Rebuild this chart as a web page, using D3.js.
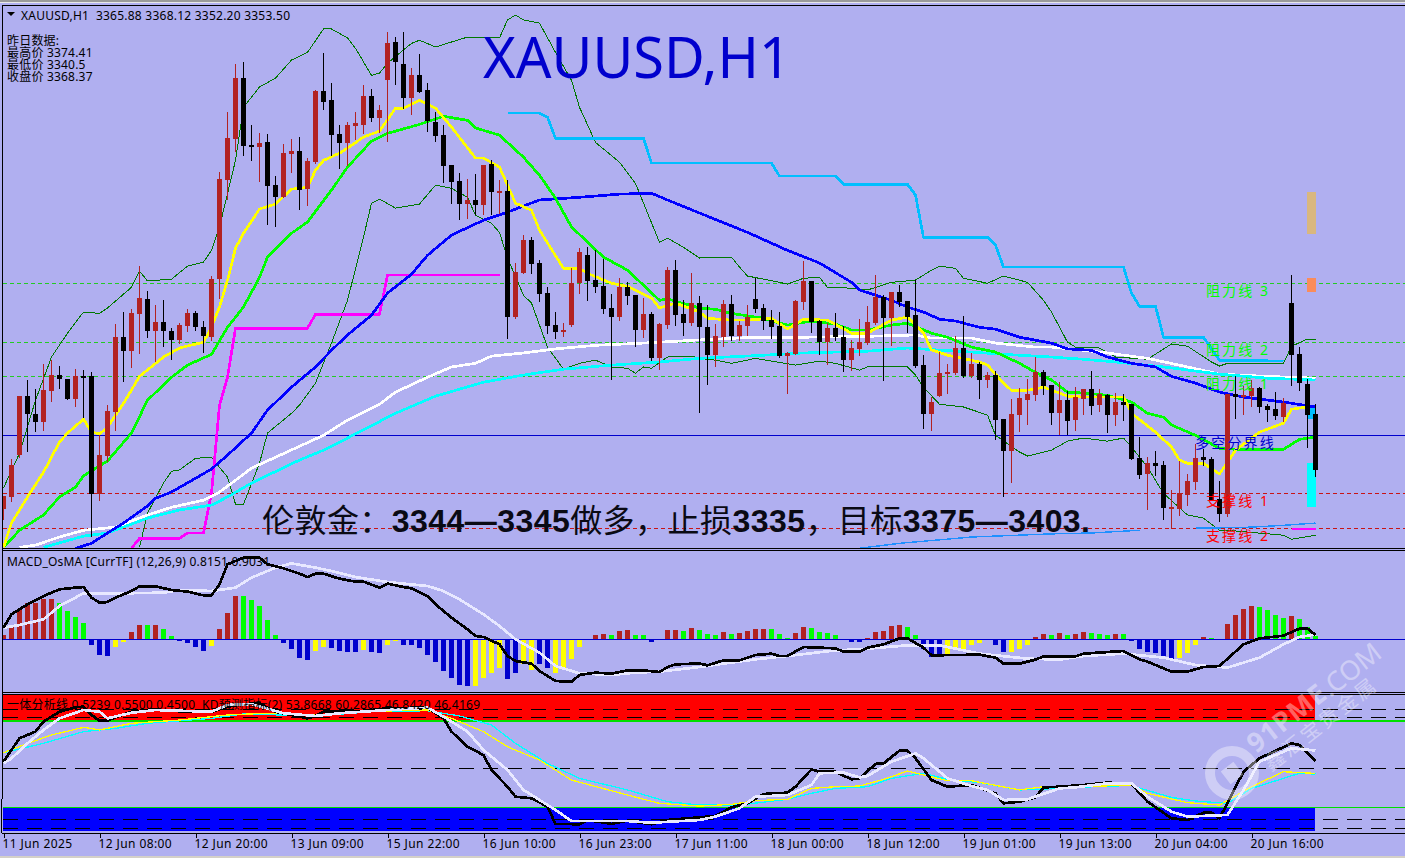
<!DOCTYPE html>
<html><head><meta charset="utf-8">
<script src="https://cdn.jsdelivr.net/npm/d3@7/dist/d3.min.js"></script>
<style>
html,body{margin:0;padding:0;background:#b0aff0;overflow:hidden}
svg{display:block}
text{font-family:"Noto Sans","Noto Sans CJK SC",sans-serif}
</style></head><body><svg id="c" width="1405" height="858"></svg>
<script>
// ---------- candles (XAUUSD H1) ----------
const opens=[3344.8,3347.5,3356.8,3369.9,3365.9,3364.1,3371.0,3374.6,3373.7,3369.2,
3374.3,3374.3,3348.1,3356.6,3366.4,3383.0,3379.9,3388.1,3391.5,3384.3,
3386.3,3384.3,3382.4,3385.5,3388.3,3385.2,3383.0,3395.9,3417.9,3427.0,
3440.6,3425.7,3425.2,3426.3,3416.8,3414.1,3423.7,3424.3,3415.9,3421.9,
3437.7,3435.7,3428.1,3426.1,3429.9,3430.1,3436.6,3431.7,3440.1,3448.6,
3443.7,3436.1,3441.2,3437.9,3430.8,3427.9,3421.2,3417.7,3412.6,3413.5,
3412.3,3421.5,3415.2,3415.5,3387.5,3397.2,3404.6,3399.5,3392.8,3385.7,
3384.1,3385.7,3395.0,3401.2,3395.7,3394.3,3389.5,3387.5,3394.1,3392.3,
3384.6,3388.1,3378.3,3385.7,3397.9,3388.1,3386.1,3390.6,3385.2,3379.0,
3383.0,3390.4,3383.2,3385.5,3391.5,3389.5,3386.8,3385.5,3378.8,3379.2,
3390.8,3395.5,3386.6,3381.9,3385.0,3383.0,3377.9,3380.4,3381.7,3386.1,
3391.9,3387.2,3393.0,3391.0,3387.9,3376.8,3365.9,3369.9,3374.8,3375.0,
3380.6,3374.3,3377.0,3373.5,3374.6,3364.8,3357.7,3365.7,3369.0,3370.1,
3375.2,3372.4,3366.1,3369.0,3364.6,3369.2,3371.5,3367.9,3370.1,3365.7,
3368.6,3368.1,3356.1,3352.6,3355.0,3354.6,3344.8,3344.8,3347.9,3350.8,
3356.4,3355.9,3347.0,3343.7,3370.4,3369.7,3369.9,3371.7,3367.7,3367.0,
3365.2,3390.6,3379.2,3372.6,3365.88];
const highs=[3347.7,3355.9,3369.9,3373.5,3371.5,3377.0,3377.9,3376.6,3373.7,3375.9,
3375.7,3375.2,3361.2,3367.9,3385.9,3388.6,3389.2,3398.8,3393.2,3390.1,
3391.2,3385.0,3386.1,3389.2,3388.8,3386.6,3396.6,3419.7,3433.0,3443.7,
3444.1,3430.1,3428.3,3428.1,3418.8,3425.9,3427.0,3427.5,3422.8,3437.9,
3446.1,3439.5,3430.1,3430.8,3433.0,3439.0,3438.1,3434.6,3450.8,3449.7,
3450.8,3442.8,3445.9,3439.5,3433.0,3430.1,3421.2,3419.5,3418.1,3419.2,
3421.2,3422.3,3417.9,3417.9,3399.5,3405.7,3405.2,3400.1,3394.1,3388.6,
3386.1,3398.3,3402.8,3403.0,3402.3,3400.3,3392.6,3396.1,3395.2,3392.3,
3391.7,3388.6,3386.1,3398.6,3400.1,3391.2,3397.2,3392.1,3390.1,3385.9,
3391.2,3392.3,3386.6,3390.1,3396.1,3390.4,3389.0,3388.6,3379.7,3391.2,
3399.9,3395.5,3386.8,3386.1,3388.3,3385.5,3382.4,3387.0,3389.9,3396.8,
3392.3,3393.0,3394.6,3391.0,3395.7,3379.0,3369.7,3379.7,3377.0,3383.2,
3387.7,3379.5,3377.5,3375.2,3375.5,3364.8,3369.2,3371.7,3373.7,3378.6,
3375.7,3372.4,3373.0,3371.0,3371.9,3371.5,3375.5,3371.5,3370.4,3370.6,
3370.4,3368.1,3360.8,3356.4,3357.7,3355.5,3349.0,3355.5,3352.6,3359.3,
3358.1,3356.4,3351.0,3370.4,3374.3,3372.1,3373.5,3371.9,3368.1,3370.8,
3369.5,3396.8,3380.8,3373.7,3368.12];
const lows=[3342.6,3346.6,3356.4,3357.7,3362.1,3362.4,3368.8,3371.7,3369.2,3367.7,
3365.2,3338.8,3346.8,3355.5,3362.4,3373.2,3376.4,3379.5,3383.0,3377.7,
3381.0,3378.1,3381.7,3384.3,3384.6,3379.7,3382.4,3391.7,3413.7,3424.3,
3423.5,3422.3,3417.7,3408.1,3407.7,3414.1,3419.7,3411.5,3412.3,3421.7,
3433.7,3423.5,3420.6,3421.2,3427.0,3428.3,3431.0,3428.6,3426.6,3439.2,
3433.9,3432.6,3437.5,3428.8,3426.6,3417.5,3412.8,3409.2,3409.5,3410.3,
3410.3,3410.3,3410.6,3382.8,3387.2,3397.2,3397.2,3391.0,3383.9,3382.8,
3383.2,3385.5,3392.8,3391.2,3393.0,3388.3,3373.7,3386.8,3390.4,3381.0,
3383.0,3377.9,3375.9,3385.0,3385.7,3383.5,3385.7,3366.4,3372.6,3376.6,
3381.0,3382.4,3382.4,3383.5,3388.6,3384.8,3382.8,3378.6,3370.6,3379.2,
3389.2,3384.1,3379.2,3377.0,3382.4,3375.5,3375.7,3379.0,3381.5,3385.9,
3373.5,3381.2,3389.9,3384.1,3376.4,3362.8,3362.4,3369.9,3370.6,3374.8,
3374.1,3374.1,3369.5,3371.9,3360.4,3347.7,3350.8,3362.1,3363.7,3369.0,
3370.4,3363.7,3361.5,3361.5,3362.4,3365.9,3365.9,3366.6,3361.9,3363.5,
3364.6,3355.9,3351.7,3344.8,3352.4,3342.6,3340.6,3343.5,3345.7,3349.2,
3354.6,3346.8,3342.1,3343.2,3365.0,3365.9,3367.7,3366.4,3364.3,3364.8,
3364.3,3372.4,3371.2,3358.6,3352.20];
const closes=[3347.7,3354.6,3369.9,3365.9,3364.1,3371.2,3374.6,3373.7,3369.2,3374.3,
3374.1,3348.1,3356.8,3366.6,3383.0,3379.9,3388.3,3391.7,3384.3,3386.3,
3384.3,3382.4,3385.7,3388.3,3385.2,3383.2,3395.9,3418.1,3427.2,3440.6,
3425.5,3425.2,3426.1,3416.6,3414.1,3423.9,3424.3,3415.7,3422.1,3437.7,
3435.2,3427.9,3426.1,3430.1,3430.6,3436.6,3431.7,3433.5,3448.3,3444.1,
3436.1,3441.2,3437.5,3431.0,3427.7,3421.0,3417.5,3412.6,3413.5,3412.3,
3421.2,3415.2,3415.5,3387.5,3397.5,3404.6,3399.2,3392.6,3385.5,3384.1,
3384.6,3395.0,3401.9,3395.5,3394.1,3389.2,3387.5,3394.1,3392.1,3384.6,
3388.1,3378.3,3385.9,3397.9,3387.9,3386.1,3390.6,3385.2,3379.0,3383.2,
3390.4,3383.2,3385.7,3387.5,3389.2,3386.6,3385.2,3378.8,3379.5,3391.0,
3395.5,3386.3,3381.9,3385.0,3383.0,3377.9,3380.6,3381.9,3386.3,3391.9,
3387.2,3393.0,3390.8,3387.5,3376.6,3365.9,3368.6,3375.0,3375.2,3380.6,
3374.3,3377.0,3373.5,3374.6,3364.6,3357.7,3365.9,3369.5,3370.4,3375.2,
3372.2,3366.1,3369.0,3364.3,3369.7,3371.5,3367.7,3370.4,3365.7,3368.6,
3367.9,3355.9,3352.4,3355.0,3354.4,3345.0,3345.2,3348.3,3351.0,3356.1,
3355.7,3346.8,3343.7,3370.4,3369.7,3370.1,3371.7,3367.5,3366.8,3365.5,
3368.3,3379.0,3372.8,3365.7,3353.50];

// ---------- main-pane overlays: [bar index, price] ----------
const maYellow=[[0,3336.3],[1,3341.7],[3,3347.5],[5,3353.0],[7,3359.7],[8,3361.7],[10,3364.8],[11,3361.9],[12,3361.5],[13,3363.0],[15,3368.3],[17,3374.3],[20,3378.6],[22,3380.6],[25,3381.9],[26,3385.2],[27,3389.7],[28,3395.7],[29,3402.8],[30,3406.1],[32,3411.5],[34,3412.6],[36,3415.9],[38,3416.3],[39,3420.1],[40,3422.3],[42,3423.9],[43,3425.0],[45,3427.5],[47,3428.8],[49,3433.9],[50,3433.9],[52,3435.7],[54,3433.9],[56,3429.7],[59,3422.8],[60,3422.8],[62,3420.8],[64,3412.8],[66,3411.2],[67,3406.8],[70,3398.3],[72,3398.3],[73,3397.2],[76,3395.0],[78,3394.3],[81,3391.7],[82,3389.5],[84,3390.6],[87,3388.6],[88,3387.2],[91,3386.8],[93,3386.8],[96,3387.2],[98,3384.8],[100,3387.0],[103,3386.8],[106,3383.9],[108,3383.9],[111,3386.8],[113,3387.5],[115,3383.9],[116,3380.2],[118,3379.0],[122,3377.5],[123,3376.8],[125,3372.8],[126,3371.2],[128,3371.2],[130,3371.9],[133,3369.9],[135,3369.7],[140,3369.7],[141,3366.1],[144,3361.9],[146,3358.6],[147,3355.7],[148,3355.0],[150,3355.0],[152,3352.6],[154,3357.9],[157,3361.9],[160,3363.9],[161,3367.0],[163,3367.5],[164,3364.6]];
const maGreen=[[0,3336.3],[2,3340.1],[5,3343.5],[7,3347.5],[9,3349.7],[10,3352.2],[13,3355.5],[16,3361.7],[18,3369.0],[21,3374.1],[23,3376.8],[26,3379.2],[28,3385.2],[30,3389.7],[32,3396.3],[33,3400.8],[36,3406.1],[38,3408.6],[41,3415.7],[43,3420.8],[46,3426.6],[48,3428.3],[49,3428.8],[52,3430.3],[55,3432.1],[58,3431.2],[59,3429.5],[62,3427.9],[65,3423.0],[67,3419.0],[69,3413.9],[71,3407.5],[75,3400.8],[78,3397.9],[82,3391.2],[83,3391.5],[87,3389.5],[89,3389.2],[91,3388.3],[95,3387.2],[96,3386.6],[98,3385.7],[101,3386.6],[104,3385.9],[106,3384.6],[108,3384.6],[111,3385.7],[113,3386.1],[116,3383.9],[118,3383.0],[121,3380.8],[124,3379.7],[127,3377.2],[129,3375.2],[131,3373.5],[133,3370.8],[135,3370.6],[138,3370.1],[141,3368.6],[143,3366.1],[145,3365.2],[146,3363.5],[149,3361.2],[152,3358.3],[154,3358.1],[160,3358.1],[162,3360.3],[164,3360.8]];
const maBlue=[[9,3336.1],[11,3337.2],[13,3339.5],[15,3341.7],[18,3345.5],[19,3347.2],[21,3348.6],[26,3353.7],[28,3356.8],[31,3361.7],[33,3366.8],[36,3371.9],[39,3376.4],[41,3380.1],[43,3383.5],[46,3387.9],[48,3392.8],[51,3397.0],[53,3401.2],[56,3405.7],[60,3409.0],[63,3410.8],[67,3413.5],[72,3414.1],[77,3414.8],[81,3415.0],[83,3413.5],[87,3410.6],[93,3406.3],[98,3402.3],[102,3399.5],[106,3395.2],[107,3393.5],[111,3391.2],[113,3389.7],[115,3388.6],[117,3387.0],[119,3386.6],[122,3385.2],[124,3384.8],[127,3383.0],[131,3381.7],[133,3380.4],[136,3380.1],[138,3378.6],[141,3377.2],[144,3376.4],[146,3374.3],[149,3372.8],[152,3370.8],[155,3369.7],[160,3368.6],[164,3367.5]];
const maWhite=[[2,3336.3],[4,3336.8],[7,3338.6],[10,3340.1],[14,3340.8],[18,3343.5],[21,3345.2],[25,3346.8],[27,3348.6],[29,3351.2],[31,3353.9],[40,3361.2],[43,3364.6],[47,3368.1],[49,3370.8],[53,3374.1],[56,3376.4],[59,3377.2],[61,3378.8],[65,3379.5],[69,3380.4],[74,3381.2],[80,3381.7],[87,3382.4],[94,3383.0],[100,3383.0],[108,3383.2],[114,3383.5],[116,3382.8],[121,3382.8],[124,3381.7],[129,3380.8],[131,3380.8],[135,3380.1],[138,3379.5],[143,3378.3],[148,3376.4],[152,3374.8],[158,3374.3],[164,3373.9]];
const maCyan=[[5,3336.3],[10,3338.8],[13,3339.5],[18,3342.8],[22,3344.6],[26,3345.7],[28,3347.5],[31,3350.6],[37,3355.7],[40,3357.9],[43,3360.6],[49,3366.1],[54,3369.9],[60,3373.0],[65,3374.6],[70,3375.9],[76,3376.8],[82,3377.5],[87,3378.3],[95,3379.0],[100,3379.5],[108,3379.9],[113,3380.6],[121,3379.7],[125,3379.2],[131,3378.6],[135,3378.1],[139,3377.5],[145,3376.4],[152,3374.8],[158,3373.9],[164,3373.5]];
const bandUpper=[[0,3349.5],[2,3357.2],[4,3369.0],[6,3378.6],[8,3383.9],[10,3388.6],[12,3388.3],[13,3389.5],[16,3394.1],[17,3397.7],[18,3395.5],[21,3395.9],[23,3398.8],[25,3399.7],[26,3402.3],[27,3407.5],[29,3422.3],[30,3434.1],[32,3438.6],[34,3440.6],[36,3444.6],[38,3446.3],[40,3451.5],[41,3451.5],[43,3449.5],[44,3447.2],[46,3441.2],[47,3441.7],[48,3443.9],[51,3448.3],[52,3449.0],[54,3447.5],[58,3449.7],[62,3449.5],[63,3453.5],[64,3454.6],[65,3453.5],[67,3452.8],[69,3446.3],[71,3440.1],[72,3434.1],[74,3426.3],[77,3421.9],[79,3417.2],[80,3412.8],[82,3404.1],[83,3405.0],[85,3403.0],[87,3400.6],[91,3400.8],[92,3398.6],[93,3396.6],[97,3395.2],[98,3394.8],[100,3396.1],[102,3396.3],[103,3394.1],[106,3393.9],[108,3393.5],[111,3395.2],[114,3395.7],[116,3397.9],[117,3398.8],[119,3398.3],[120,3396.1],[123,3395.0],[125,3396.6],[128,3395.2],[130,3391.2],[131,3388.6],[133,3381.9],[134,3380.8],[137,3380.6],[139,3378.6],[143,3378.1],[146,3381.5],[148,3381.0],[151,3377.5],[152,3376.6],[153,3377.2],[160,3377.2],[161,3381.0],[163,3382.6],[164,3382.6]];
const bandLower=[[17,3336.3],[18,3343.9],[20,3350.6],[21,3353.2],[22,3353.5],[24,3356.1],[26,3356.3],[28,3351.9],[29,3345.9],[30,3345.9],[32,3355.0],[33,3361.7],[36,3366.1],[37,3367.9],[39,3372.8],[41,3381.7],[43,3391.2],[45,3405.2],[46,3412.8],[47,3413.7],[49,3411.7],[52,3412.6],[54,3416.8],[56,3416.1],[58,3414.1],[59,3410.1],[61,3408.3],[62,3406.3],[63,3400.6],[65,3392.3],[66,3390.6],[68,3380.8],[70,3375.9],[72,3377.2],[74,3377.9],[76,3376.4],[78,3376.1],[79,3375.0],[80,3376.4],[81,3376.1],[83,3378.6],[86,3378.8],[87,3378.3],[89,3377.9],[91,3377.2],[94,3378.3],[99,3376.8],[102,3377.7],[104,3377.2],[107,3375.7],[108,3376.4],[113,3376.4],[114,3374.6],[115,3371.9],[117,3368.1],[120,3367.5],[123,3365.7],[124,3361.2],[127,3357.5],[128,3356.6],[131,3357.9],[133,3359.9],[135,3360.6],[138,3359.9],[140,3360.6],[141,3358.6],[143,3354.1],[145,3348.3],[148,3343.5],[150,3342.8],[152,3340.1],[153,3340.1],[160,3339.0],[161,3338.1],[164,3339.0]];
const stopMagenta=[[16,3336.1],[17,3338.3],[22,3338.3],[23,3339.5],[25,3339.5],[26,3348.3],[27,3367.9],[28,3374.1],[29,3385.0],[38,3385.0],[39,3388.1],[47,3388.1],[48,3396.8],[62,3396.8]];
const stopSky=[[63,3432.8],[67,3432.8],[68,3431.9],[69,3427.2],[80,3427.2],[81,3421.7],[96,3421.7],[97,3418.8],[104,3418.8],[105,3417.0],[113,3417.0],[114,3414.6],[115,3405.2],[123,3405.2],[124,3403.5],[125,3398.6],[140,3398.6],[141,3392.8],[142,3389.9],[144,3389.9],[145,3383.0],[150,3383.0],[152,3377.9],[160,3377.7]];
const trailDodgerA=[[107,3336.1],[112,3337.2],[121,3338.6],[131,3339.3],[136,3339.5],[142,3340.1]];
const trailDodgerB=[[149,3340.6],[151,3340.6],[156,3340.8],[160,3341.2],[164,3341.7]];
const shortMagenta=[[161,3340.4],[164,3340.4]];
// signal blocks in the last bar: [top price, bottom price]
const blockTan=[3415.2,3405.9], blockOrange=[3396.1,3393.0], blockCyan=[3355.0,3345.2], blockSky=[3367.2,3364.8];
const blockBar=164;

// ---------- horizontal levels ----------
const resistance=[3395.0,3381.9,3374.41];
const support=[3348.3,3340.5];
const pivot=3361.2;
const levelLabels=[["阻力线 3",3395.0,"#00ff00"],["阻力线 2",3381.9,"#00ff00"],["阻力线 1",3374.41,"#00ff00"],["多空分界线",3361.2,"#0000cd"],["支撑线 1",3348.3,"#ff0000"],["支撑线 2",3340.5,"#ff0000"]];

// ---------- MACD pane ----------
const histValues=[.8,2.8,5.87,7.27,7.27,8.07,8.07,7.27,5.67,4.47,
3.27,-1.13,-3.13,-3.33,-1.53,-.53,1.47,2.87,2.87,2.87,
2.07,.67,-.33,-.73,-1.53,-2.33,-1.33,2.07,5.27,8.67,
8.67,7.87,6.67,3.87,.87,-.73,-1.93,-3.73,-4.13,-2.33,
-1.53,-1.73,-2.33,-2.53,-2.53,-2.13,-2.53,-2.73,-1.13,-.33,
-1.13,-1.13,-1.73,-3.13,-4.53,-6.33,-7.73,-9.13,-9.33,-9.33,
-7.73,-6.73,-5.73,-7.93,-6.73,-4.93,-6.13,-4.93,-5.73,-6.73,
-5.73,-3.93,-1.53,-.27,.87,1.07,.87,1.67,1.87,.87,
.87,-.53,0,1.87,1.87,1.67,2.27,1.87,1.07,.87,
1.47,1.07,1.27,1.67,2.07,2.07,2.07,1.07,.27,1.27,
2.47,2.27,1.47,1.27,.87,0,-.53,-.53,.27,1.47,
1.67,2.67,2.87,2.47,.87,-1.93,-3.53,-3.13,-3.13,-1.73,
-1.93,-1.13,-.73,0,-1.13,-2.53,-2.53,-1.93,-1.13,.47,
1.07,.87,1.27,.87,1.07,1.47,1.27,1.07,.87,1.07,
1.07,-.47,-1.93,-2.53,-2.73,-3.33,-3.93,-3.73,-2.73,-1.13,
.47,.27,0,3.07,4.87,6.07,6.67,6.47,5.87,4.87,
4.27,4.67,4.07,2.47,.67];
const histKinds=("rrrrrrrggg"+"gbbbyyrrgr"+"ggbbbbyrrr"+"gggggbbbby"+"ybbbbybbyy"+"bbbbbbbbby"+"yyybbyybby"+"yyyyrrgrrg"+"gbgrrgrggg"+"rgrrrrgggr"+"rggggrbbrr"+"rrrggbbbyy"+"yyyybbyyyr"+"rgrgrrgggr"+"gbbbbbbyyy"+"rggrrrrggg"+"grggg").split("");
const macdMain=[[0,2.27],[1,4.93],[3,6.93],[5,8.6],[7,9.93],[9,10.27],[10,10.4],[11,8.27],[12,7.27],[13,7.4],[14,8.27],[16,9.6],[17,10.53],[19,10.53],[21,9.8],[23,9.47],[25,8.73],[26,8.73],[27,10.93],[28,14.93],[30,16.27],[32,16.27],[33,14.93],[35,14.13],[37,13.07],[38,12.4],[39,13.07],[40,13.07],[42,12.07],[44,11.47],[45,11.47],[47,10.27],[48,11.07],[50,10.4],[51,10.13],[53,8.6],[54,6.93],[56,4.27],[58,1.93],[59,.6],[60,.4],[62,-1.07],[63,-3.4],[64,-4.4],[66,-4.93],[67,-6.4],[69,-8.4],[71,-8.53],[72,-7.2],[74,-6.73],[76,-6.93],[78,-6.27],[80,-6.27],[82,-6.6],[83,-5.6],[84,-5.07],[87,-4.9],[88,-5.27],[90,-4.27],[92,-4.27],[94,-3.2],[96,-2.93],[97,-3.4],[98,-3.4],[100,-1.6],[104,-1.87],[105,-2.53],[107,-2.53],[108,-1.73],[110,-1.07],[112,.13],[113,.13],[115,-1.73],[116,-3.27],[122,-3.13],[124,-3.73],[125,-4.93],[127,-4.93],[129,-4.13],[130,-3.47],[134,-3.47],[135,-2.93],[140,-2.4],[142,-4.07],[143,-4.53],[146,-6.53],[148,-6.53],[150,-5.6],[152,-5.4],[155,-1.07],[157,.13],[160,.67],[162,2.07],[163,2.07],[164,.8151]];
const macdSignal=[[0,2.27],[2,2.8],[5,3.93],[7,6.6],[10,9.13],[15,9.13],[20,9.27],[22,9.8],[26,9.6],[29,10.27],[31,12.27],[34,14.27],[36,15.13],[39,14.27],[41,13.6],[44,12.4],[48,11.4],[53,10.6],[55,9.6],[57,7.93],[60,4.93],[62,2.6],[64,-.07],[67,-2.73],[69,-5.4],[72,-6.87],[76,-7.2],[79,-6.73],[82,-6.53],[87,-5.6],[90,-4.93],[94,-4.07],[98,-3.4],[104,-2.27],[107,-2.07],[113,-1.27],[117,-1.27],[122,-2.93],[128,-3.93],[132,-4.13],[135,-3.4],[140,-2.93],[145,-3.73],[149,-5.2],[153,-5.73],[157,-3.73],[160,-1.07],[162,.4],[164,.9031]];

// ---------- KD pane ----------
const kdLevels=[85,80,50,20,15];
const kdZoneHigh=[92.9,78.2], kdZoneLow=[26.8,13.2];
const kdGreenLevels=[78.2,26.8];
const kdFast=[[0,53.7],[1,60.6],[2,67.5],[4,71.4],[5,77.3],[7,83.1],[9,85.7],[10,86.1],[11,81.2],[12,77.8],[13,77.8],[14,79.8],[16,83.1],[19,84.5],[21,83.5],[26,83.1],[28,86.1],[30,87.6],[32,88.0],[34,83.1],[36,81.2],[38,79.2],[39,80.6],[40,83.1],[44,83.1],[48,85.1],[53,85.5],[55,79.2],[56,71.4],[58,62.5],[60,57.6],[61,48.8],[63,39.0],[64,33.1],[66,32.2],[68,27.3],[69,17.1],[72,16.9],[73,19.4],[76,17.1],[78,19.0],[81,16.9],[83,19.4],[87,21.0],[89,21.8],[91,26.9],[93,29.2],[95,34.7],[98,35.5],[99,39.0],[101,49.2],[102,47.8],[104,47.8],[106,43.3],[107,43.9],[109,52.4],[110,52.7],[112,60.2],[113,60.2],[114,55.7],[116,42.9],[118,39.0],[121,40.0],[124,35.1],[125,29.2],[127,30.2],[129,32.7],[130,38.6],[132,39.0],[135,40.0],[138,41.4],[141,40.6],[143,30.2],[146,20.4],[148,19.4],[150,23.7],[151,23.7],[152,20.4],[155,47.8],[157,55.7],[161,64.5],[162,63.5],[164,53.8668]];
const kdSlow=[[0,52.7],[1,55.7],[3,64.5],[5,72.4],[7,79.2],[10,84.1],[12,83.1],[13,79.2],[16,82.5],[19,84.1],[26,83.1],[28,87.1],[31,87.6],[35,82.2],[39,80.6],[42,82.2],[48,84.1],[53,85.5],[55,80.2],[58,71.4],[60,60.6],[63,48.8],[65,37.1],[67,31.2],[69,25.3],[71,18.8],[78,18.8],[81,17.8],[87,19.4],[89,21.4],[92,26.3],[94,33.1],[98,34.1],[101,40.0],[102,46.9],[105,47.3],[107,44.5],[108,45.3],[111,53.7],[114,58.6],[115,55.7],[118,43.9],[121,39.4],[123,37.1],[125,31.2],[128,31.6],[132,38.0],[134,38.6],[138,41.0],[141,41.0],[143,33.1],[146,24.3],[148,21.4],[153,22.4],[155,37.1],[157,53.7],[161,61.6],[164,60.2865]];
const kdYellow=[[0,59.0],[3,64.5],[6,69.4],[10,73.9],[12,72.4],[16,76.3],[22,78.2],[28,81.2],[33,82.2],[39,81.2],[44,83.1],[53,84.1],[56,79.2],[60,71.4],[63,62.5],[67,54.7],[71,42.9],[78,34.1],[82,29.2],[87,27.6],[91,28.6],[94,30.8],[98,31.6],[101,38.0],[104,39.0],[107,39.4],[110,43.3],[113,48.2],[115,45.9],[118,42.5],[121,42.5],[127,37.1],[130,39.0],[135,39.0],[141,40.0],[143,35.1],[148,29.6],[152,28.2],[156,39.0],[160,47.8],[164,46.842]];
const kdCyan=[[0,59.0],[5,64.5],[10,71.4],[14,73.3],[18,76.3],[26,79.2],[30,81.8],[39,80.6],[46,83.1],[53,83.7],[57,80.6],[61,75.3],[64,64.5],[68,52.7],[72,43.9],[78,37.1],[83,30.2],[87,28.2],[92,28.2],[98,31.6],[101,35.1],[104,38.0],[108,39.0],[111,43.9],[115,46.9],[118,43.3],[122,41.4],[127,37.1],[132,38.0],[138,39.4],[141,39.6],[146,32.7],[149,30.6],[153,29.2],[156,38.0],[160,43.9],[162,46.9],[164,46.4169]];

// ---------- time axis ----------
const timeBars=[0,12,24,36,48,60,72,84,96,108,120,132,144,156];
const timeLabels=["11 Jun 2025","12 Jun 08:00","12 Jun 20:00","13 Jun 09:00","15 Jun 22:00","16 Jun 10:00","16 Jun 23:00","17 Jun 11:00","18 Jun 00:00","18 Jun 12:00","19 Jun 01:00","19 Jun 13:00","20 Jun 04:00","20 Jun 16:00"];

// ---------- text ----------
const headerText="XAUUSD,H1  3365.88 3368.12 3352.20 3353.50";
const yesterday=["昨日数据:","最高价 3374.41","最低价 3340.5","收盘价 3368.37"];
const macdTitle="MACD_OsMA [CurrTF] (12,26,9) 0.8151 0.9031";
const kdTitle="一体分析线 0.5239 0.5500 0.4500  KD预测指标(2) 53.8668 60.2865 46.8420 46.4169";
const tradeParts=[["伦敦金：",0],["3344—3345",1],["做多，止损",0],["3335",1],["，目标",0],["3375—3403.",1]];

// ---------- scales ----------
const W=1405;
const x=d3.scaleLinear().domain([0,164]).range([3,1315]);
const yMain=d3.scaleLinear().domain([3457.94,3337.94]).range([0,540]);
const yMacd=d3.scaleLinear().domain([17.6,-10.4]).range([551,691]);
const yKd=d3.scaleLinear().domain([100,0]).range([683,853]);

const BG="#b0aff0", BROWN="#b22222", kinds={r:BROWN,g:"#00ff00",b:"#0000cd",y:"#ffff00"};
const svg=d3.select("#c");
svg.append("rect").attr("width",W).attr("height",858).attr("fill",BG);
const defs=svg.append("defs");
const clip=(id,y0,y1)=>defs.append("clipPath").attr("id",id).append("rect").attr("x",3).attr("y",y0).attr("width",W-3).attr("height",y1-y0);
clip("cMain",6,548);clip("cMacd",551,692);clip("cKd",695,833);

const crisp=svg.append("g").attr("shape-rendering","crispEdges");
const lineOf=yS=>d3.line().x(d=>x(d[0])+.5).y(d=>yS(d[1]));
const draw=(g,data,yS,col,w)=>g.append("path").attr("d",lineOf(yS)(data)).attr("fill","none").attr("stroke",col).attr("stroke-width",w).attr("stroke-linejoin","round");
const hline=(g,yv,col,dash,w=1)=>g.append("line").attr("x1",3).attr("x2",W).attr("y1",Math.round(yv)+.5).attr("y2",Math.round(yv)+.5).attr("stroke",col).attr("stroke-width",w).attr("stroke-dasharray",dash);
const THICK=2.7;

// main pane
const gm=crisp.append("g").attr("clip-path","url(#cMain)");
resistance.forEach(v=>hline(gm,yMain(v),"#22cc22","4 3"));
support.forEach(v=>hline(gm,yMain(v),"#c81414","4 3"));
hline(gm,yMain(pivot),"#0000cd",null);
draw(gm,bandUpper,yMain,"#007800",1);
draw(gm,bandLower,yMain,"#007800",1);
draw(gm,stopMagenta,yMain,"#ff00ff",THICK);
draw(gm,stopSky,yMain,"#00bfff",THICK);
draw(gm,trailDodgerA,yMain,"#1e90ff",1.4);
draw(gm,trailDodgerB,yMain,"#1e90ff",1.4);
draw(gm,shortMagenta,yMain,"#ff00ff",1.4);
draw(gm,maWhite,yMain,"#ffffff",THICK);
draw(gm,maCyan,yMain,"#00ffff",THICK);
draw(gm,maBlue,yMain,"#0000ff",THICK);
draw(gm,maGreen,yMain,"#00ff00",THICK);
draw(gm,maYellow,yMain,"#ffff00",THICK);
[[blockTan,"#d9b77f"],[blockOrange,"#fa8c5a"],[blockCyan,"#00ffff"],[blockSky,"#00bfff"]].forEach(([b,c])=>{
  gm.append("rect").attr("x",x(blockBar)-8).attr("width",9).attr("y",yMain(b[0])).attr("height",yMain(b[1])-yMain(b[0])).attr("fill",c);
});
const idx=d3.range(opens.length);
const cand=gm.selectAll(".k").data(idx).join("g");
cand.append("rect").attr("x",i=>x(i)).attr("width",1).attr("y",i=>Math.round(yMain(highs[i]))).attr("height",i=>Math.round(yMain(lows[i]))-Math.round(yMain(highs[i]))+1)
  .attr("fill",i=>closes[i]>=opens[i]?BROWN:"#000");
cand.append("rect").attr("x",i=>x(i)-2).attr("width",5).attr("y",i=>Math.round(yMain(Math.max(opens[i],closes[i]))))
  .attr("height",i=>Math.max(2,Math.round(yMain(Math.min(opens[i],closes[i])))-Math.round(yMain(Math.max(opens[i],closes[i])))))
  .attr("fill",i=>closes[i]>=opens[i]?BROWN:"#000");

// MACD pane
const gc=crisp.append("g").attr("clip-path","url(#cMacd)");
gc.selectAll("rect").data(histValues).join("rect")
  .attr("x",(d,i)=>x(i)-2).attr("width",5)
  .attr("y",d=>Math.min(yMacd(d),yMacd(0)))
  .attr("height",d=>Math.abs(yMacd(d)-yMacd(0)))
  .attr("fill",(d,i)=>kinds[histKinds[i]]||"none");
hline(gc,yMacd(0),"#0000cd",null);
draw(gc,macdSignal,yMacd,"#e8e8ff",THICK);
draw(gc,macdMain,yMacd,"#000",THICK);

// KD pane
const gk=crisp.append("g").attr("clip-path","url(#cKd)");
const zone=(z,c)=>gk.append("rect").attr("x",x(0)).attr("width",x(164)-x(0)).attr("y",yKd(z[0])).attr("height",yKd(z[1])-yKd(z[0])).attr("fill",c);
zone(kdZoneHigh,"#ff0000");zone(kdZoneLow,"#0000ff");
kdGreenLevels.forEach((v,i)=>hline(gk,yKd(v),"#00e000",null,i?1:2));
kdLevels.forEach(v=>hline(gk,yKd(v),"#000","15 9"));
draw(gk,kdCyan,yKd,"#00ffff",1.3);
draw(gk,kdYellow,yKd,"#ffff00",1.3);
draw(gk,kdFast,yKd,"#000",THICK);
draw(gk,kdSlow,yKd,"#e8e8ff",THICK);

// frame
const frame=[[2,5,W,5],[2,5,2,833],[2,548,W,548],[2,550,W,550],[2,692,W,692],[2,694,W,694],[2,833,W,833]];
crisp.selectAll(".f").data(frame).join("line").attr("x1",d=>d[0]+.5).attr("y1",d=>d[1]+.5).attr("x2",d=>d[2]).attr("y2",d=>d[3]+.5).attr("stroke","#000");
crisp.append("rect").attr("width",W).attr("height",2).attr("fill","#9a9a9a");
crisp.append("rect").attr("y",2).attr("width",W).attr("height",1).attr("fill","#e8e8e8");
crisp.append("rect").attr("y",856).attr("width",W).attr("height",2).attr("fill","#d4d0c8");

// time axis
const axis=d3.axisBottom(x).tickValues(timeBars).tickFormat((d,i)=>timeLabels[i]).tickSize(4).tickPadding(2);
const ga=svg.append("g").attr("transform","translate(0,833.5)").call(axis);
ga.select(".domain").remove();
ga.selectAll("line").attr("stroke","#000").attr("transform","translate(0.5,0)").attr("shape-rendering","crispEdges");
ga.selectAll("text").attr("text-anchor","start").attr("font-size",12).attr("letter-spacing","0.4px").attr("fill","#000").attr("font-family",'"Noto Sans",sans-serif').attr("dx",-1);

// texts
const T=(s,px,py,size,col,extra={})=>{const t=svg.append("text").attr("x",px).attr("y",py).attr("font-size",size).attr("fill",col).attr("xml:space","preserve").text(s);
  Object.entries(extra).forEach(([k,v])=>t.attr(k,v));return t;};
svg.append("path").attr("d","M7 12L15 12L11 16Z").attr("fill","#000");
T(headerText,21,20,12,"#000",{textLength:269,lengthAdjust:"spacing",style:"white-space:pre"});
yesterday.forEach((s,i)=>T(s,7,45+12*i,12,"#000",{"letter-spacing":"0.2px"}));
T("XAUUSD,H1",483,78,56,"#0000cd",{textLength:308,lengthAdjust:"spacingAndGlyphs"});
levelLabels.forEach(([s,v,c])=>{
  const hasNumber=/\d/.test(s);
  T(s,hasNumber?1206:1195,yMain(v)+13,14,c,{"letter-spacing":hasNumber?"2.1px":"2.2px"});
});
const tr=svg.append("text").attr("x",262).attr("y",532).attr("font-size",32).attr("fill","#0a0a14").attr("textLength",828).attr("lengthAdjust","spacing");
tradeParts.forEach(([s,b])=>tr.append("tspan").text(s)
  .attr("font-family",b?'"Liberation Sans",sans-serif':'"Noto Sans CJK SC",sans-serif').attr("font-weight",b?700:400));
T(macdTitle,7,566,12,"#000",{textLength:263,lengthAdjust:"spacing"});
T(kdTitle,7,709,12,"#000",{textLength:473,lengthAdjust:"spacing",style:"white-space:pre"});

// watermark
const wm=svg.append("g").attr("fill","#fff").attr("opacity",.38);
wm.append("circle").attr("cx",1232).attr("cy",773).attr("r",22).attr("fill","none").attr("stroke","#fff").attr("stroke-width",10);
wm.append("rect").attr("x",1224).attr("y",765).attr("width",16).attr("height",16).attr("transform","rotate(-38 1232 773)");
wm.append("text").attr("transform","translate(1256,754) rotate(-38)").attr("font-size",27).attr("font-weight",700).attr("font-family",'"Liberation Sans",sans-serif').text("91PME").attr("textLength",92);
wm.append("text").attr("transform","translate(1330,698) rotate(-38)").attr("font-size",27).attr("font-family",'"Liberation Sans",sans-serif').text(".COM");
wm.append("text").attr("transform","translate(1271,772) rotate(-38)").attr("font-size",20).attr("letter-spacing","3px").attr("font-family",'"Noto Sans CJK SC",sans-serif').text("鑫汇宝贵金属");
</script></body></html>
